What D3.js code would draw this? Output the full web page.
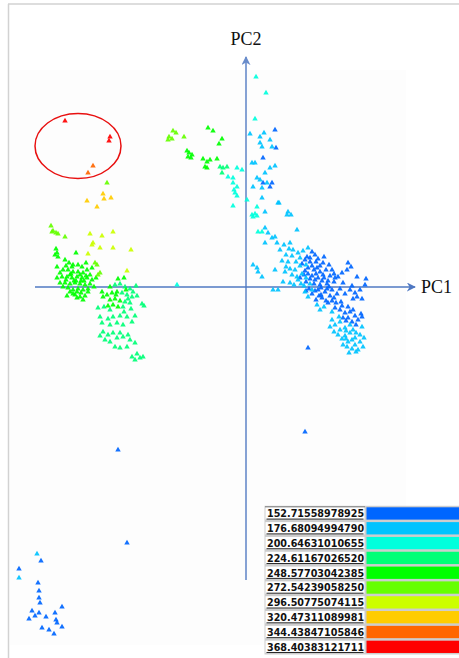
<!DOCTYPE html>
<html>
<head>
<meta charset="utf-8">
<script src="https://cdn.jsdelivr.net/npm/d3@7"></script>
<style>
  html, body { margin: 0; padding: 0; background: #fff; }
  svg { display: block; }
</style>
</head>
<body>
<svg id="chart" width="459" height="658"></svg>
<script>
// Legend breaks (class values) and their colours
const legendLabels = [
  "152.71558978925", "176.68094994790", "200.64631010655", "224.61167026520",
  "248.57703042385", "272.54239058250", "296.50775074115", "320.47311089981",
  "344.43847105846", "368.40383121711"
];
const legendColors = [
  "#0066ff", "#00c3ff", "#00ffdd", "#00ff77", "#00ff00",
  "#66ff00", "#ccff00", "#ffcc00", "#ff6600", "#ff0000"
];

// Scores [PC1, PC2] grouped by class index (0 = lowest break)
const cls0 = [
  [2.9,15.7],[1.7,12.9],[2.6,10.4],[1.7,10.4],[2.4,10.0],[3.0,13.9],
  [6.6,3.5],[6.9,3.2],[5.9,2.7],[6.4,2.5],[7.0,2.5],[7.4,2.1],[6.2,1.9],[6.8,1.7],
  [7.4,1.5],[8.0,1.7],[6.6,1.1],[7.2,0.9],[7.8,0.9],[8.4,1.1],[6.0,0.5],[6.8,0.3],
  [7.4,0.2],[8.1,0.3],[8.8,0.5],[7.2,-0.3],[7.9,-0.5],[8.6,-0.3],[6.6,-0.7],[7.6,-1.1],
  [8.4,-0.9],[9.1,-0.7],[6.2,1.3],[5.4,0.9],[7.0,-1.3],[7.7,1.2],[8.3,0.0],[6.9,0.7],
  [7.5,-0.8],[8.8,1.3],[6.4,2.9],[7.1,1.9],[5.9,1.6],
  [5.6,2.3],[6.1,3.0],[6.6,2.1],[7.2,2.8],[7.7,2.4],[5.8,1.2],[6.4,0.8],[7.0,1.3],
  [7.6,0.6],[8.2,0.6],[8.9,0.9],[6.3,-0.2],[6.9,-0.4],[7.5,-0.1],[8.1,-0.2],[8.8,-1.1],
  [9.4,-0.2],[7.3,-0.9],[8.0,-1.4],[8.6,-1.4],[9.5,-1.5],[9.0,-1.6],[6.0,-0.4],
  [7.8,3.0],[8.3,2.2],[9.2,1.0],[9.6,1.4],
  [8.6,1.7],[10.2,2.4],[10.1,1.7],[11.1,1.0],[12.0,0.8],[9.7,0.4],[10.4,-0.3],
  [10.9,-0.6],[11.4,-0.3],[11.1,-1.0],[9.9,-0.7],[10.6,0.1],[10.5,2.0],
  [10.7,-1.2],[11.6,-1.2],[11.9,0.2],
  [9.4,-2.3],[9.9,-2.6],[10.4,-2.5],[10.9,-2.9],[10.2,-3.1],[11.2,-3.3],[10.6,-3.5],
  [9.7,-3.1],[8.9,-2.1],[8.2,-1.6],[11.5,-2.7],[10.0,-3.4],[11.0,-3.8],[10.2,-2.0],
  [11.6,-3.0],[10.7,-2.3],[9.6,-1.9],
  [5.9,-14.5],[6.2,-6.1],[-12.8,-16.3],[-11.9,-25.6],
  [-20.5,-27.4],[-22.7,-28.2],[-20.8,-29.6],[-20.7,-30.4],[-20.7,-31.1],[-20.6,-31.6],
  [-18.4,-32.0],[-21.4,-32.4],[-20.7,-32.6],[-21.1,-32.9],[-21.7,-33.2],[-20.0,-33.0],
  [-19.1,-32.6],[-19.0,-33.3],[-18.9,-33.6],[-18.4,-34.0],[-20.4,-34.1],[-19.7,-34.3],
  [-19.2,-34.7]
];
const cls1 = [
  [0.4,15.3],[0.6,12.4],[0.9,12.4],[1.4,15.0],[1.8,15.4],[2.4,14.7],[1.4,14.4],
  [1.6,14.0],[2.6,14.0],[2.4,11.9],[2.9,12.1],[1.1,10.9],[1.9,11.4],[1.4,10.7],
  [2.1,10.4],[0.7,10.0],[1.6,9.9],[1.6,8.9],[3.2,8.4],[1.9,7.5],[4.2,7.5],[4.1,7.2],
  [4.5,7.2],[3.3,8.4],[1.9,5.9],[2.2,5.4],[5.1,5.7],[2.6,4.9],[2.9,5.0],[3.1,4.4],
  [1.9,4.4],[3.4,3.7],[4.4,4.4],[4.7,3.7],[5.2,3.4],[0.7,2.2],[1.1,1.9],[1.2,1.5],
  [1.6,1.0],[2.9,1.7],[3.9,1.5],[2.7,-0.3],[3.2,-0.3],[3.7,0.5],[4.4,0.4],
  [4.6,3.1],[5.0,2.5],[5.4,2.1],[4.9,1.7],[5.6,1.3],[6.0,0.9],[5.2,0.7],[6.4,0.3],
  [5.8,0.1],[5.4,2.9],[6.0,2.2],[4.2,2.5],[4.6,1.2],[6.6,-0.3],[4.0,3.2],[3.6,2.6],
  [4.0,2.0],[4.4,1.8],[5.1,1.0],[5.5,0.3],[4.8,0.2],[5.9,-0.5],[6.2,-1.0],[4.3,3.8],
  [3.8,4.2],[5.7,3.6],[6.2,3.9],
  [8.4,-4.0],[8.9,-3.8],[9.4,-4.3],[9.9,-4.1],[9.2,-4.8],[9.9,-4.9],[10.4,-4.6],
  [10.9,-5.1],[10.2,-5.5],[10.9,-5.8],[11.4,-5.5],[11.6,-4.0],[9.7,-5.8],[10.6,-6.2],
  [11.2,-6.3],[9.4,-3.5],[11.4,-4.8],[10.4,-3.8],[10.0,-5.2],[10.7,-4.3],
  [8.8,-4.5],[9.6,-5.2],[10.1,-6.0],[10.6,-5.3],[11.0,-4.6],[11.8,-5.1],[11.7,-6.0],
  [10.3,-6.6],[11.0,-6.5],[9.3,-3.0],[8.6,-3.3],[10.0,-4.4],
  [7.1,-1.8],[7.4,-2.3],[7.8,-2.0],[8.6,-2.5],
  [-20.9,-26.7],[-22.7,-29.1]
];
const cls2 = [
  [-1.8,11.0],[-1.3,10.9],[-0.9,11.9],[-0.4,11.7],[-1.3,10.4],[-0.9,10.0],[-1.1,9.4],
  [-0.9,9.1],[-1.2,9.7],[-1.3,8.1],[0.1,8.7],[1.0,21.0],[2.0,19.4],[0.9,16.8],
  [0.9,7.3],[0.7,7.0],[1.1,7.1],[1.2,5.5],[1.6,5.5],[0.6,7.2],[1.1,8.0],
  [-6.9,0.2]
];
const cls3 = [
  [-2.6,12.0],[-2.3,11.9],[-1.9,12.0],[-2.4,11.4],
  [-13.1,0.2],[-12.6,0.3],[-12.1,0.0],[-11.6,-0.2],[-11.3,-0.5],[-12.4,-0.6],
  [-11.9,-0.8],[-11.4,-1.0],[-10.9,-0.9],[-12.1,-1.5],[-11.6,-1.6],[-12.3,-2.0],
  [-10.4,-1.7],[-10.2,-1.9],[-11.8,-1.2],[-11.0,0.1],[-12.2,-2.5],[-11.5,-2.2],
  [-14.8,-2.1],[-14.2,-2.0],[-13.6,-2.3],[-14.6,-3.0],[-13.8,-3.2],[-13.3,-3.0],
  [-12.6,-2.9],[-11.9,-3.0],[-11.1,-2.9],[-14.4,-3.6],[-13.6,-3.8],[-12.9,-3.6],
  [-12.3,-3.8],[-11.4,-3.5],[-14.3,-4.5],[-13.8,-4.8],[-13.3,-4.6],[-12.6,-4.6],
  [-14.6,-4.9],[-14.1,-5.3],[-13.6,-5.5],[-12.9,-5.1],[-12.3,-5.0],[-11.8,-4.8],
  [-11.6,-5.3],[-11.1,-5.6],[-13.1,-6.0],[-12.6,-6.1],[-11.9,-6.0],[-11.4,-7.0],
  [-11.1,-7.3],[-10.6,-7.1],[-10.3,-7.0],[-10.9,-6.7]
];
const cls4 = [
  [-3.8,15.9],[-3.3,15.6],[-2.4,14.8],[-2.7,14.3],[-5.9,13.6],[-5.7,13.4],[-5.4,13.2],
  [-5.8,13.0],[-5.5,12.9],[-4.3,12.8],[-3.9,12.5],[-4.1,12.0],[-3.9,11.9],[-3.6,12.7],
  [-2.9,12.8],
  [-19.0,3.8],[-18.9,3.4],[-19.1,3.2],[-18.8,3.0],[-18.1,2.7],[-17.0,3.4],[-17.7,2.4],
  [-17.3,2.2],[-16.8,2.2],[-16.4,2.0],[-18.3,1.7],[-17.8,1.7],[-17.3,1.5],[-16.8,1.5],
  [-16.3,1.4],[-15.9,1.7],[-15.6,1.2],[-18.4,1.0],[-17.9,1.0],[-17.4,0.9],[-16.9,1.0],
  [-16.4,0.9],[-15.9,0.9],[-15.4,0.7],[-18.6,0.4],[-18.1,0.4],[-17.6,0.3],[-17.1,0.4],
  [-16.6,0.3],[-16.1,0.2],[-15.6,0.3],[-17.8,-0.1],[-17.3,-0.3],[-16.8,-0.2],
  [-16.3,-0.3],[-15.8,-0.2],[-17.1,-0.8],[-16.6,-1.0],[-16.1,-0.9],[-16.9,-1.1],
  [-17.6,-0.5],[-18.3,0.0],[-17.0,0.6],[-16.5,0.6],[-17.5,1.3],[-16.0,1.1],[-18.0,0.7],
  [-15.2,0.0],[-16.9,-0.5],[-17.4,2.0],[-18.6,1.4],[-15.0,0.9],
  [-18.0,2.1],[-17.6,1.2],[-17.2,0.6],[-16.6,1.2],[-16.2,0.6],[-15.8,-0.5],[-17.3,-0.7],
  [-16.5,-0.6],[-15.4,1.9],[-16.0,2.4],[-18.9,0.9],[-18.9,2.0],[-17.9,-0.9],[-16.3,-1.3],
  [-14.4,-0.5],[-13.6,0.0],[-13.9,-0.8],[-13.4,-0.6],[-12.9,-0.5],[-13.6,-1.3],
  [-13.1,-1.2],[-12.6,-1.4],[-13.3,-1.8],[-12.8,-2.0],[-14.3,-1.0],
  [-13.0,-0.8],[-12.0,-0.3],[-12.8,0.8],[-12.2,0.9],[-13.8,-1.9]
];
const cls5 = [
  [-13.9,10.4],[-15.1,2.4],[-14.9,2.2],[-14.6,1.4],[-14.8,1.2],
  [-19.5,6.1],[-19.3,5.6],[-19.4,5.5],[-19.0,5.4],[-18.8,5.3],[-18.1,5.0],
  [-7.3,15.6],[-7.0,15.4],[-7.7,15.0],[-7.4,14.8],[-7.8,14.7],[-6.2,15.0]
];
const cls6 = [
  [-15.6,5.3],[-14.4,5.1],[-13.3,5.5],[-15.3,4.4],[-15.4,4.2],[-14.6,3.9],[-13.3,3.9],
  [-11.5,3.7],[-15.8,3.3],[-11.9,1.6]
];
const cls7 = [[-14.3,9.3],[-14.2,8.8],[-13.5,8.9],[-15.9,8.6],[-14.9,8.0]];
const cls8 = [[-15.3,12.1],[-15.8,11.4]];
const cls9 = [[-18.1,16.6],[-13.6,15.0],[-13.7,14.6]];

const classes = [cls0, cls1, cls2, cls3, cls4, cls5, cls6, cls7, cls8, cls9];

const W = 459, H = 658;
const svg = d3.select("#chart");

// Score space mapped onto the page; origin of the PC axes sits at (0,0)
const x = d3.scaleLinear().domain([-24.6, 21.3]).range([0, W]);
const y = d3.scaleLinear().domain([28.7, -37.1]).range([0, H]);

// window frame
svg.append("line").attr("x1", 8).attr("x2", W).attr("y1", 4).attr("y2", 4)
  .attr("stroke", "#d2d2d2").attr("stroke-width", 1.5);
svg.append("line").attr("x1", 8.5).attr("x2", 8.5).attr("y1", 4).attr("y2", H)
  .attr("stroke", "#d2d2d2").attr("stroke-width", 1.5);

// faint plotting backdrop
svg.append("rect").attr("x", 10).attr("y", 70).attr("width", 396).attr("height", 575)
  .attr("fill", "#fdfdfd");

// axes with arrow heads
const axisColor = "#4f78c2";
const defs = svg.append("defs");
defs.append("marker").attr("id", "arrow").attr("viewBox", "0 0 10 10")
  .attr("refX", 9).attr("refY", 5).attr("markerWidth", 9).attr("markerHeight", 9)
  .attr("markerUnits", "userSpaceOnUse").attr("orient", "auto")
  .append("path").attr("d", "M0,0 L10,5 L0,10 L3,5 Z").attr("fill", axisColor);

svg.append("line")
  .attr("x1", x(-21.1)).attr("x2", x(16.9)).attr("y1", y(0)).attr("y2", y(0))
  .attr("stroke", axisColor).attr("stroke-width", 1.4).attr("marker-end", "url(#arrow)");
svg.append("line")
  .attr("x1", x(0)).attr("x2", x(0)).attr("y1", y(-29.3)).attr("y2", y(23.0))
  .attr("stroke", axisColor).attr("stroke-width", 1.6).attr("opacity", 0.85)
  .attr("marker-end", "url(#arrow)");

svg.append("text").attr("x", x(0)).attr("y", 45).attr("text-anchor", "middle")
  .attr("font-family", "Liberation Serif, Times New Roman, serif").attr("font-size", 18)
  .attr("fill", "#111").text("PC2");
svg.append("text").attr("x", 421).attr("y", y(0) + 6)
  .attr("font-family", "Liberation Serif, Times New Roman, serif").attr("font-size", 18)
  .attr("fill", "#111").text("PC1");

// points
const tri = d3.symbol().type(d3.symbolTriangle).size(13);
const pts = svg.append("g");
classes.forEach((arr, ci) => {
  pts.selectAll(null).data(arr).join("path")
    .attr("d", tri)
    .attr("transform", d => `translate(${x(d[0])},${y(d[1])})`)
    .attr("fill", legendColors[ci])
    .attr("opacity", 0.92);
});

// highlighted outliers
svg.append("ellipse")
  .attr("cx", x(-16.8)).attr("cy", y(14.1))
  .attr("rx", x(-16.8 + 4.3) - x(-16.8)).attr("ry", y(14.1 - 3.25) - y(14.1))
  .attr("fill", "none").attr("stroke", "#e81010").attr("stroke-width", 1.5);

// colour legend
const lg = svg.append("g");
const rowTop = 507.3, pitch = 14.82, rowH = 12.3;
const textX0 = 265.5, textX1 = 364.5, barX0 = 366.5;
lg.append("rect").attr("x", textX0 - 1).attr("y", rowTop - 1.5)
  .attr("width", W - textX0 + 1).attr("height", pitch * 9 + rowH + 3)
  .attr("fill", "#cdcdcd");
defs.append("clipPath").attr("id", "labclip").append("rect")
  .attr("x", textX0).attr("y", 0).attr("width", textX1 - textX0).attr("height", H);

const rows = lg.selectAll("g.row").data(legendLabels).join("g")
  .attr("class", "row")
  .attr("transform", (d, i) => `translate(0,${rowTop + i * pitch})`);
rows.append("rect").attr("x", textX0).attr("y", 0)
  .attr("width", textX1 - textX0).attr("height", rowH).attr("fill", "#fff");
rows.append("rect").attr("x", barX0).attr("y", 0)
  .attr("width", W - barX0).attr("height", rowH)
  .attr("fill", (d, i) => legendColors[i]);
rows.append("text").attr("x", textX0 + 1.5).attr("y", rowH - 2.3)
  .attr("clip-path", "url(#labclip)")
  .attr("font-family", "DejaVu Sans, sans-serif").attr("font-weight", "bold")
  .attr("font-size", 9.6).attr("fill", "#111").text(d => d);
rows.append("line").attr("x1", textX0 + 1).attr("x2", textX1 - 1)
  .attr("y1", rowH - 0.5).attr("y2", rowH - 0.5)
  .attr("stroke", "#222").attr("stroke-width", 1);
lg.append("line").attr("x1", textX0).attr("x2", textX1)
  .attr("y1", rowTop - 0.5).attr("y2", rowTop - 0.5)
  .attr("stroke", "#333").attr("stroke-dasharray", "1,1");
</script>
</body>
</html>
